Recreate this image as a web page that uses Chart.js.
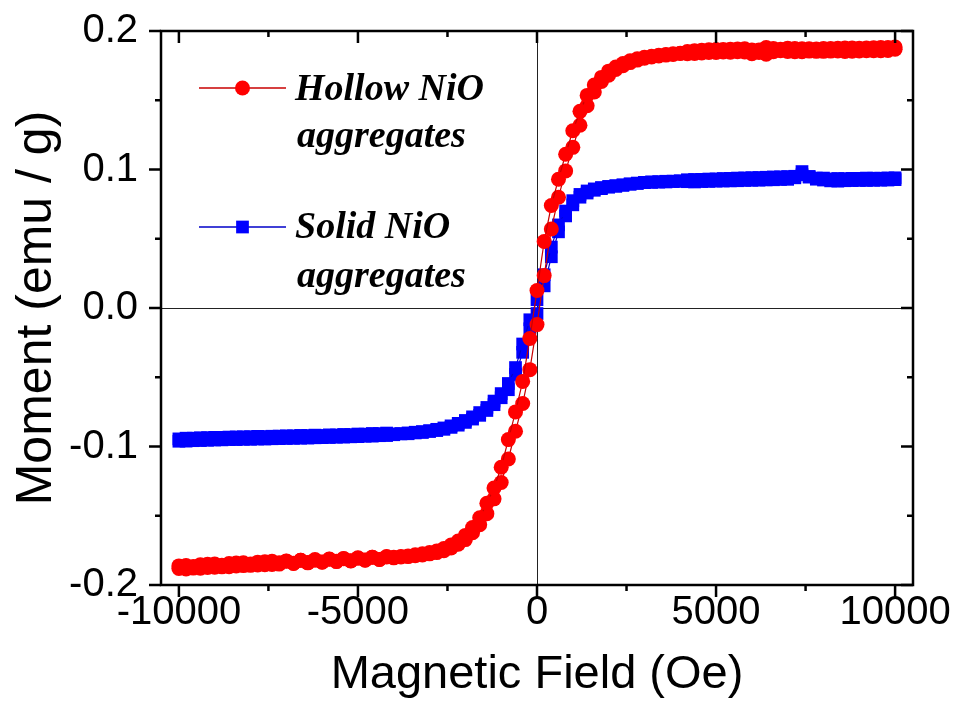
<!DOCTYPE html>
<html><head><meta charset="utf-8">
<script src="https://cdn.jsdelivr.net/npm/chart.js@4.4.1/dist/chart.umd.min.js"></script>
<style>html,body{margin:0;padding:0;background:#fff}#wrap{width:953px;height:715px}</style>
</head><body><div id="wrap"><canvas id="c" width="953" height="715"></canvas></div>
<script>
// Magnetic field (Oe)
const fieldOe = [-10000,-9800,-9600,-9400,-9200,-9000,-8800,-8600,-8400,-8200,
 -8000,-7800,-7600,-7400,-7200,-7000,-6800,-6600,-6400,-6200,
 -6000,-5800,-5600,-5400,-5200,-5000,-4800,-4600,-4400,-4200,
 -4000,-3800,-3600,-3400,-3200,-3000,-2800,-2600,-2400,-2200,
 -2000,-1800,-1600,-1400,-1200,-1000,-800,-600,-400,-200,
 0,
 200,400,600,800,1000,1200,1400,1600,1800,2000,
 2200,2400,2600,2800,3000,3200,3400,3600,3800,4000,
 4200,4400,4600,4800,5000,5200,5400,5600,5800,6000,
 6200,6400,6600,6800,7000,7200,7400,7600,7800,8000,
 8200,8400,8600,8800,9000,9200,9400,9600,9800,10000];

// Hollow NiO aggregates, descending-field branch (emu/g)
const hollowDown = [-0.1862,-0.1884,-0.1866,-0.1879,-0.1850,-0.1871,-0.1858,-0.1868,-0.1841,-0.1860,
 -0.1848,-0.1856,-0.1832,-0.1852,-0.1840,-0.1829,-0.1845,-0.1822,-0.1838,-0.1821,
 -0.1834,-0.1814,-0.1829,-0.1810,-0.1826,-0.1806,-0.1819,-0.1800,-0.1815,-0.1798,
 -0.1800,-0.1794,-0.1790,-0.1782,-0.1774,-0.1765,-0.1754,-0.1736,-0.1712,-0.1682,
 -0.1642,-0.1585,-0.1515,-0.1410,-0.1300,-0.1150,-0.0950,-0.0750,-0.0530,-0.0220,
 0.0126,
 0.0480,0.0740,0.0930,0.1110,0.1280,0.1420,0.1535,0.1610,0.1665,0.1710,
 0.1740,0.1765,0.1785,0.1800,0.1810,0.1818,0.1825,0.1830,0.1835,0.1840,
 0.1852,0.1838,0.1861,0.1845,0.1866,0.1848,0.1869,0.1850,0.1871,0.1836,
 0.1862,0.1832,0.1873,0.1858,0.1876,0.1851,0.1872,0.1855,0.1870,0.1853,
 0.1874,0.1856,0.1877,0.1854,0.1875,0.1858,0.1879,0.1857,0.1880,0.1869];

// Hollow NiO aggregates, ascending-field branch (emu/g)
const hollowUp = [-0.1880,-0.1860,-0.1878,-0.1853,-0.1874,-0.1848,-0.1869,-0.1845,-0.1863,-0.1839,
 -0.1858,-0.1835,-0.1854,-0.1829,-0.1849,-0.1826,-0.1843,-0.1822,-0.1840,-0.1816,
 -0.1836,-0.1812,-0.1831,-0.1808,-0.1825,-0.1804,-0.1821,-0.1799,-0.1816,-0.1795,
 -0.1804,-0.1797,-0.1795,-0.1788,-0.1783,-0.1775,-0.1766,-0.1752,-0.1733,-0.1705,
 -0.1672,-0.1622,-0.1565,-0.1485,-0.1378,-0.1260,-0.1090,-0.0890,-0.0690,-0.0445,
 -0.0120,
 0.0234,0.0570,0.0800,0.0990,0.1160,0.1320,0.1460,0.1560,0.1635,0.1680,
 0.1722,0.1750,0.1772,0.1790,0.1803,0.1812,0.1820,0.1826,0.1831,0.1838,
 0.1836,0.1858,0.1842,0.1864,0.1845,0.1867,0.1847,0.1870,0.1849,0.1863,
 0.1845,0.1880,0.1850,0.1869,0.1852,0.1873,0.1850,0.1871,0.1853,0.1874,
 0.1855,0.1876,0.1852,0.1878,0.1856,0.1877,0.1858,0.1881,0.1859,0.1884];

// Solid NiO aggregates, descending-field branch (emu/g)
const solidDown = [-0.0945,-0.0961,-0.0940,-0.0957,-0.0936,-0.0953,-0.0934,-0.0950,-0.0931,-0.0948,
 -0.0929,-0.0946,-0.0928,-0.0944,-0.0925,-0.0942,-0.0923,-0.0940,-0.0921,-0.0937,
 -0.0920,-0.0935,-0.0917,-0.0932,-0.0914,-0.0929,-0.0911,-0.0925,-0.0907,-0.0921,
 -0.0909,-0.0907,-0.0902,-0.0897,-0.0892,-0.0885,-0.0876,-0.0866,-0.0851,-0.0833,
 -0.0812,-0.0786,-0.0755,-0.0718,-0.0672,-0.0618,-0.0545,-0.0430,-0.0260,-0.0085,
 0.0060,
 0.0240,0.0440,0.0600,0.0700,0.0775,0.0820,0.0845,0.0860,0.0870,0.0878,
 0.0884,0.0890,0.0897,0.0902,0.0907,0.0911,0.0909,0.0915,0.0913,0.0919,
 0.0912,0.0928,0.0913,0.0931,0.0916,0.0935,0.0918,0.0938,0.0921,0.0941,
 0.0923,0.0944,0.0926,0.0947,0.0929,0.0951,0.0962,0.0950,0.0938,0.0924,
 0.0918,0.0935,0.0919,0.0936,0.0921,0.0938,0.0922,0.0937,0.0924,0.0940];

// Solid NiO aggregates, ascending-field branch (emu/g)
const solidUp = [-0.0962,-0.0940,-0.0958,-0.0937,-0.0955,-0.0934,-0.0952,-0.0932,-0.0950,-0.0930,
 -0.0948,-0.0927,-0.0946,-0.0926,-0.0943,-0.0923,-0.0941,-0.0920,-0.0939,-0.0918,
 -0.0936,-0.0916,-0.0933,-0.0913,-0.0930,-0.0910,-0.0926,-0.0906,-0.0922,-0.0903,
 -0.0915,-0.0909,-0.0908,-0.0902,-0.0899,-0.0892,-0.0885,-0.0876,-0.0862,-0.0846,
 -0.0826,-0.0802,-0.0775,-0.0740,-0.0698,-0.0648,-0.0590,-0.0480,-0.0320,-0.0150,
 -0.0040,
 0.0160,0.0370,0.0550,0.0665,0.0745,0.0800,0.0830,0.0850,0.0862,0.0872,
 0.0878,0.0885,0.0893,0.0899,0.0905,0.0907,0.0912,0.0910,0.0916,0.0914,
 0.0926,0.0910,0.0929,0.0914,0.0932,0.0917,0.0936,0.0919,0.0939,0.0922,
 0.0942,0.0925,0.0946,0.0928,0.0949,0.0940,0.0985,0.0945,0.0930,0.0938,
 0.0932,0.0916,0.0934,0.0920,0.0936,0.0921,0.0937,0.0923,0.0939,0.0927];

const xMajorTicks = [-10000,-5000,0,5000,10000];
const xMinorTicks = [-7500,-2500,2500,7500];
const yMajorTicks = [-0.2,-0.1,0.0,0.1,0.2];
const yMinorTicks = [-0.15,-0.05,0.05,0.15];
const seriesNames = ['Hollow NiO aggregates','Solid NiO aggregates'];
const legendText = [['Hollow NiO','aggregates'],['Solid NiO','aggregates']];
const xTitle = 'Magnetic Field (Oe)';
const yTitle = 'Moment (emu / g)';

const toPts = ys => fieldOe.map((h,i)=>({x:h,y:ys[i]}));

const RED = '#ff0000', REDLINE = '#c80000', BLUE = '#0000ff', BLUELINE = '#0000c8';

function ds(label, ys, fill, line, style, r){
  return {label, data: toPts(ys), showLine:true, borderColor:line, borderWidth:1.2,
    backgroundColor:fill, pointBackgroundColor:fill, pointBorderColor:fill, pointBorderWidth:0,
    pointStyle:style, pointRadius:r, pointHoverRadius:r, tension:0, clip:false};
}

const framePlugin = {
  id:'frame',
  beforeDatasetsDraw(chart){
    const {ctx, chartArea:a, scales:{x,y}} = chart;
    ctx.save(); ctx.strokeStyle='#222'; ctx.lineWidth=1;
    const x0 = Math.round(x.getPixelForValue(0))+0.5;
    const y0 = Math.round(y.getPixelForValue(0))+0.5;
    ctx.beginPath();
    ctx.moveTo(x0,a.top); ctx.lineTo(x0,a.bottom);
    ctx.moveTo(a.left,y0); ctx.lineTo(a.right,y0);
    ctx.stroke(); ctx.restore();
  },
  afterDatasetsDraw(chart){
    const {ctx, chartArea:a, scales:{x,y}} = chart;
    ctx.save(); ctx.strokeStyle='#000'; ctx.lineWidth=2.5; ctx.lineCap='butt';
    ctx.strokeRect(a.left, a.top, a.right-a.left, a.bottom-a.top);
    ctx.beginPath();
    const MAJ=12, MIN=6;
    xMajorTicks.forEach(v=>{const p=x.getPixelForValue(v);
      ctx.moveTo(p,a.bottom); ctx.lineTo(p,a.bottom+MAJ);
      ctx.moveTo(p,a.top); ctx.lineTo(p,a.top+MAJ);});
    xMinorTicks.forEach(v=>{const p=x.getPixelForValue(v);
      ctx.moveTo(p,a.bottom); ctx.lineTo(p,a.bottom+MIN);
      ctx.moveTo(p,a.top); ctx.lineTo(p,a.top+MIN);});
    yMajorTicks.forEach(v=>{const p=y.getPixelForValue(v);
      ctx.moveTo(a.left,p); ctx.lineTo(a.left-MAJ,p);
      ctx.moveTo(a.right,p); ctx.lineTo(a.right-MAJ,p);});
    yMinorTicks.forEach(v=>{const p=y.getPixelForValue(v);
      ctx.moveTo(a.left,p); ctx.lineTo(a.left-MIN,p);
      ctx.moveTo(a.right,p); ctx.lineTo(a.right-MIN,p);});
    ctx.stroke(); ctx.restore();
  }
};

const legendPlugin = {
  id:'customLegend',
  afterDraw(chart){
    const {ctx, chartArea:a} = chart;
    const items = [
      {ds:chart.data.datasets[0], y:57, text:legendText[0], base:[69,116]},
      {ds:chart.data.datasets[2], y:196, text:legendText[1], base:[207,256]}
    ];
    ctx.save();
    items.forEach(it=>{
      const x1=a.left+38, x2=a.left+125, cy=a.top+it.y, cx=(x1+x2)/2;
      ctx.strokeStyle=it.ds.borderColor; ctx.lineWidth=1.5;
      ctx.beginPath(); ctx.moveTo(x1,cy); ctx.lineTo(x2,cy); ctx.stroke();
      ctx.fillStyle=it.ds.pointBackgroundColor;
      ctx.beginPath();
      if(it.ds.pointStyle==='circle'){ctx.arc(cx,cy,it.ds.pointRadius,0,Math.PI*2);}
      else {const s=it.ds.pointRadius*Math.SQRT1_2; ctx.rect(cx-s,cy-s,2*s,2*s);}
      ctx.fill();
      ctx.fillStyle='#000'; ctx.font='italic bold 38px "Liberation Serif", "Times New Roman", serif';
      ctx.textBaseline='alphabetic'; ctx.textAlign='left';
      ctx.fillText(it.text[0], a.left+134, a.top+it.base[0]);
      ctx.fillText(it.text[1], a.left+136, a.top+it.base[1]);
    });
    ctx.restore();
  }
};

new Chart(document.getElementById('c'), {
  type:'scatter',
  data:{datasets:[
    ds(seriesNames[0], hollowDown, RED, REDLINE, 'circle', 7.5),
    ds(seriesNames[0], hollowUp, RED, REDLINE, 'circle', 7.5),
    ds(seriesNames[1], solidDown, BLUE, BLUELINE, 'rect', 9),
    ds(seriesNames[1], solidUp, BLUE, BLUELINE, 'rect', 9)
  ]},
  options:{
    responsive:false, animation:false, devicePixelRatio:1,
    layout:{padding:{left:0,top:31,right:40,bottom:0}},
    plugins:{legend:{display:false}, tooltip:{enabled:false}},
    scales:{
      x:{type:'linear', min:-10500, max:10500,
        grid:{display:false, drawTicks:false}, border:{display:false},
        afterBuildTicks:s=>{s.ticks = xMajorTicks.map(v=>({value:v}));},
        afterFit:s=>{s.height=130; s.paddingLeft=0; s.paddingRight=0;},
        ticks:{color:'#000', padding:4, maxRotation:0, autoSkip:false,
          font:{family:'"Liberation Sans", Arial, sans-serif', size:40},
          callback:v=>String(v)},
        title:{display:true, text:xTitle, color:'#000',
          font:{family:'"Liberation Sans", Arial, sans-serif', size:47}, padding:{top:0,bottom:12}}
      },
      y:{type:'linear', min:-0.2, max:0.2,
        grid:{display:false, drawTicks:false}, border:{display:false},
        afterBuildTicks:s=>{s.ticks = yMajorTicks.map(v=>({value:v}));},
        afterFit:s=>{s.width=161; s.paddingTop=0; s.paddingBottom=0;},
        ticks:{color:'#000', padding:23, autoSkip:false,
          font:{family:'"Liberation Sans", Arial, sans-serif', size:40},
          callback:v=>Number(v).toFixed(1)},
        title:{display:true, text:yTitle, color:'#000',
          font:{family:'"Liberation Sans", Arial, sans-serif', size:50}, padding:{top:7,bottom:0}}
      }
    }
  },
  plugins:[framePlugin, legendPlugin]
});
</script></body></html>
